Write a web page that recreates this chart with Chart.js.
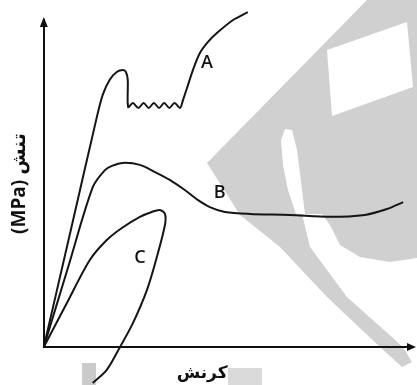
<!DOCTYPE html>
<html lang="fa">
<head>
<meta charset="utf-8">
<title>نمودار تنش - کرنش</title>
<script src="https://cdn.jsdelivr.net/npm/chart.js@4.4.1/dist/chart.umd.min.js"></script>
<style>
  html, body { margin: 0; padding: 0; background: #fff; }
  #wrap { width: 417px; height: 385px; position: relative; }
</style>
</head>
<body>
<div id="wrap"><canvas id="chart"></canvas></div>
<script>
// منحنی‌های تنش-کرنش (کرنش، تنش) - واحد دلخواه
const curveA = [
  [0, 0], [7.2, 35.1], [14.4, 70.3], [16.0, 77.1], [17.9, 81.7], [19.8, 84.1],
  [21.5, 84.7], [22.3, 84.1], [22.8, 81.7], [22.9, 73.4],
  // ناحیه تسلیم دندانه‌دار
  [24.2, 74.6], [25.7, 73.1], [27.1, 74.6], [28.5, 73.1], [29.9, 74.6],
  [31.3, 73.1], [32.7, 74.6], [34.1, 73.1], [35.5, 74.6], [37.0, 73.1],
  [37.8, 75.5], [38.9, 79.2], [40.5, 84.7], [42.4, 89.9], [44.6, 93.3],
  [47.0, 96.0], [51.4, 100.0], [55.4, 102.4]
];
const curveB = [
  [0, 0], [6.6, 24.4], [13.3, 48.9], [16.6, 54.1], [18.5, 55.4], [21.5, 56.3],
  [26.1, 55.7], [30.2, 53.5], [34.2, 51.1], [38.3, 48.0], [41.8, 45.0],
  [45.1, 42.8], [49.2, 41.3], [56.0, 40.7], [66.8, 40.4], [77.7, 39.8],
  [87.2, 40.4], [93.2, 42.2], [97.6, 44.3]
];
const curveC = [
  [0, 0], [6.2, 13.3], [12.5, 26.6], [17.1, 32.7], [21.2, 36.4], [26.1, 39.8],
  [29.3, 41.3], [31.5, 41.9], [32.9, 40.7], [32.9, 37.3], [30.7, 27.5],
  [28.0, 17.4], [24.2, 7.3], [20.7, 0], [17.1, -7.0], [13.3, -11.0]
];
const curveNames = ['A', 'B', 'C'];
const nameSpots = [[44.3, 86.9], [47.8, 47.1], [26.1, 27.2]];

const xTitle = 'کرنش';
const yTitle = '(MPa) تنش';

const toPoints = arr => arr.map(([x, y]) => ({ x, y }));

// لوگوی خاکستری پس‌زمینه (پیکسل)
const logoGray = [
  [207, 163], [367, 0], [417, 0], [417, 258], [390, 262], [360, 257], [340, 245],
  [330, 225], [322, 214], [302, 214], [310, 247], [347, 297], [403, 347],
  [412, 362], [402, 367], [380, 347], [327, 297], [280, 247], [240, 215]
];
const logoHoles = [
  [[327, 50], [407, 22], [413, 87], [332, 116]],
  [[281, 140], [285, 129], [292, 130], [297, 150], [302, 190], [305, 214], [296, 214], [288, 190], [283, 165]]
];

const backdrop = {
  id: 'backdrop',
  beforeDraw(chart) {
    const ctx = chart.ctx;
    const poly = (pts, color) => {
      ctx.beginPath();
      pts.forEach(([x, y], i) => (i ? ctx.lineTo(x, y) : ctx.moveTo(x, y)));
      ctx.closePath();
      ctx.fillStyle = color;
      ctx.fill();
    };
    ctx.save();
    poly(logoGray, '#d0d0d0');
    logoHoles.forEach(h => poly(h, '#ffffff'));
    ctx.fillStyle = '#cacaca';
    ctx.fillRect(82, 363, 14, 22);
    ctx.fillStyle = '#dadada';
    ctx.fillRect(228, 368, 34, 17);
    ctx.restore();
  }
};

// فلش انتهای محورها، عنوان محور افقی و برچسب منحنی‌ها
const axisArrows = {
  id: 'axisArrows',
  afterDraw(chart) {
    const { ctx, chartArea: a, scales } = chart;
    ctx.save();
    ctx.fillStyle = '#111';
    ctx.beginPath();
    ctx.moveTo(a.right + 4, a.bottom);
    ctx.lineTo(a.right - 5, a.bottom - 4);
    ctx.lineTo(a.right - 5, a.bottom + 4);
    ctx.closePath();
    ctx.fill();
    ctx.beginPath();
    ctx.moveTo(a.left, a.top - 3);
    ctx.lineTo(a.left - 4, a.top + 7);
    ctx.lineTo(a.left + 4, a.top + 7);
    ctx.closePath();
    ctx.fill();

    ctx.textAlign = 'center';
    ctx.textBaseline = 'middle';
    ctx.font = 'bold 17px "DejaVu Sans", sans-serif';
    ctx.fillText(xTitle, a.left + (a.right - a.left) * 0.43, a.bottom + 27);

    ctx.font = '600 18px "Open Sans", "DejaVu Sans", sans-serif';
    curveNames.forEach((name, i) => {
      const [x, y] = nameSpots[i];
      ctx.fillText(name, scales.x.getPixelForValue(x), scales.y.getPixelForValue(y));
    });
    ctx.restore();
  }
};

const lineStyle = {
  showLine: true,
  borderColor: '#151515',
  borderWidth: 2,
  pointRadius: 0,
  tension: 0.3,
  clip: false
};

new Chart(document.getElementById('chart'), {
  type: 'scatter',
  data: {
    datasets: [
      { label: 'A', data: toPoints(curveA), ...lineStyle },
      { label: 'B', data: toPoints(curveB), ...lineStyle },
      { label: 'C', data: toPoints(curveC), ...lineStyle }
    ]
  },
  options: {
    responsive: true,
    maintainAspectRatio: false,
    animation: false,
    layout: { padding: { top: 20, right: 5, bottom: 38, left: 0 } },
    plugins: { legend: { display: false }, tooltip: { enabled: false } },
    scales: {
      x: {
        min: 0, max: 100,
        grid: { display: false, drawTicks: false },
        border: { display: true, color: '#111', width: 2 },
        ticks: { display: false }
      },
      y: {
        min: 0, max: 100,
        grid: { display: false, drawTicks: false },
        border: { display: true, color: '#111', width: 2 },
        ticks: { display: false },
        title: {
          display: true, text: yTitle, color: '#111',
          font: { family: '"Open Sans", "DejaVu Sans", sans-serif', size: 19, weight: 'bold' },
          padding: { top: 8, bottom: 13 }
        }
      }
    }
  },
  plugins: [backdrop, axisArrows]
});
</script>
</body>
</html>
